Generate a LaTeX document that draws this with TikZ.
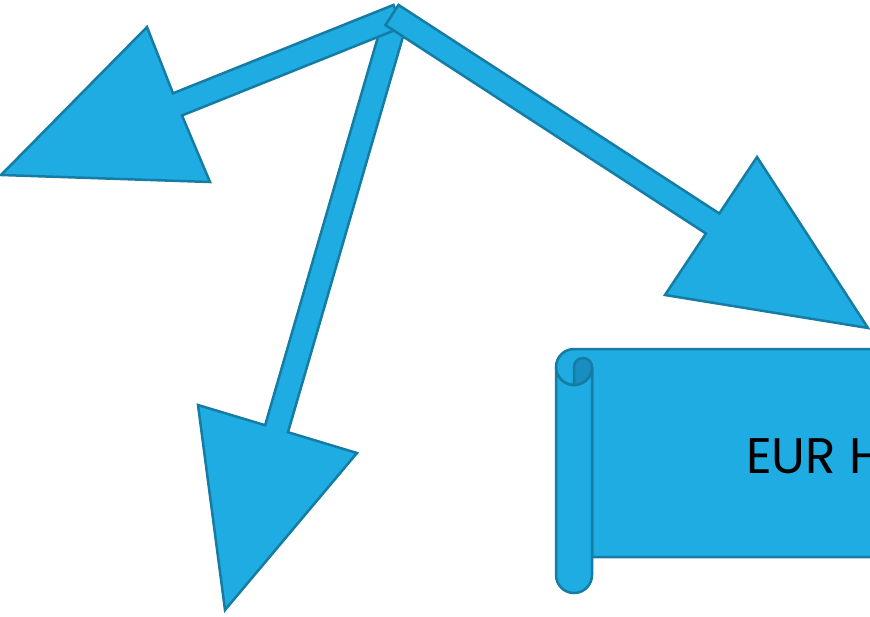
\documentclass[tikz,border=0pt]{standalone}
\usepackage{fontspec}
\setmainfont{Poppins}
\usepackage{tikz}
\usetikzlibrary{calc}
\definecolor{blu}{RGB}{30,172,226}
\definecolor{bluline}{RGB}{21,124,163}
\definecolor{bludark}{RGB}{24,141,192}
\tikzstyle{blk} = [fill=blu, draw=bluline, line width=2.5pt, line join=miter]
\tikzstyle{lbl} = [font=\fontsize{50}{50}\selectfont, inner sep=0pt, anchor=base west]

\begin{document}
\begin{tikzpicture}[x=1pt,y=-1pt]
		\useasboundingbox (0,0) rectangle (870,616);
		\clip (0,0) rectangle (870,616);
		% arrows
		\draw[blk] (381.5,24.6) -- (265.1,425.2) -- (198,405) -- (225,610) -- (357,453) -- (288,432.2) -- (404.5,31.4) -- cycle;
		\draw[blk] (393.5,4.9) -- (173,93.3) -- (147,27) -- (1,175) -- (210,182) -- (182,115.5) -- (402.5,27.1) -- cycle;
		\draw[blk] (398.5,4.9) -- (719.3,213.5) -- (757,157) -- (868,328) -- (665,295) -- (705.9,233.5) -- (385.5,25.1) -- cycle;
		% scroll
		\draw[blk] (574,349) -- (900,349) -- (900,557) -- (592,557) -- (592,367)
			arc[start angle=0, end angle=180, radius=18]
			arc[start angle=180, end angle=270, radius=18] -- cycle;
		\draw[blk] (592,367) arc[start angle=0, end angle=180, radius=18] -- (556,575)
			arc[start angle=180, end angle=0, radius=18] -- cycle;
		\draw[blk, fill=bludark] (574,367) arc[start angle=180, end angle=360, radius=9]
			arc[start angle=0, end angle=90, radius=18] -- cycle;
		\node[lbl] (eur) at (746,473) {EUR H};
	\end{tikzpicture}
\end{document}
